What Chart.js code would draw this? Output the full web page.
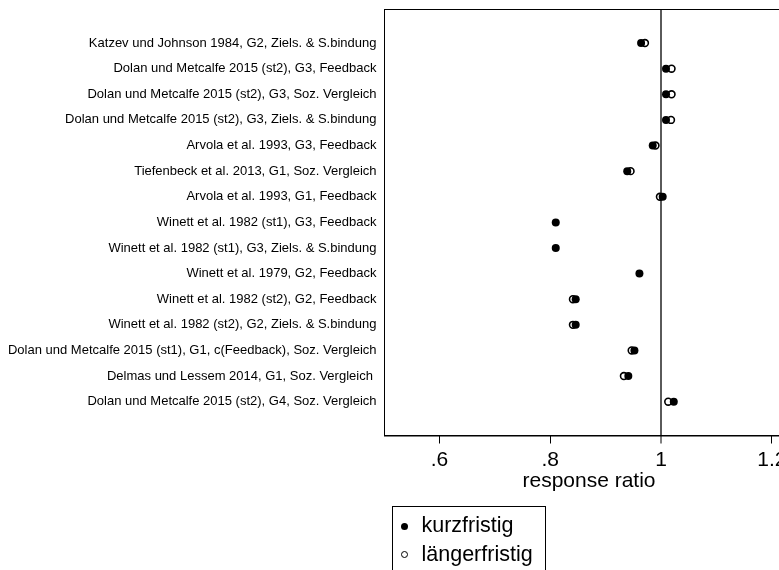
<!DOCTYPE html>
<html>
<head>
<meta charset="utf-8">
<script src="https://cdn.jsdelivr.net/npm/chart.js@4.4.1/dist/chart.umd.min.js"></script>
<style>
  html, body { margin: 0; padding: 0; overflow: hidden; background: #fff; }
  #wrap { position: relative; width: 779px; height: 570px; overflow: hidden; }
  #chart { position: absolute; left: 0; top: 0; }
  #legend {
    position: absolute; left: 392px; top: 506px; width: 154px; height: 90px;
    border: 1px solid #000; box-sizing: border-box; padding-top: 4px;
    font-family: "Liberation Sans", Arial, sans-serif; font-size: 21.5px; line-height: 28.5px; color: #000;
  }
  .item { white-space: nowrap; }
  .dot { display: inline-block; width: 7px; height: 7px; border-radius: 50%; box-sizing: border-box;
         vertical-align: middle; margin: 0 14px 0 7.5px; }
</style>
</head>
<body>
<div id="wrap">
  <canvas id="chart" width="800" height="570"></canvas>
  <div id="legend"></div>
</div>
<script>
// Studien (von oben nach unten)
const categories = [
  'Katzev und Johnson 1984, G2, Ziels. & S.bindung',
  'Dolan und Metcalfe 2015 (st2), G3, Feedback',
  'Dolan und Metcalfe 2015 (st2), G3, Soz. Vergleich',
  'Dolan und Metcalfe 2015 (st2), G3, Ziels. & S.bindung',
  'Arvola et al. 1993, G3, Feedback',
  'Tiefenbeck et al. 2013, G1, Soz. Vergleich',
  'Arvola et al. 1993, G1, Feedback',
  'Winett et al. 1982 (st1), G3, Feedback',
  'Winett et al. 1982 (st1), G3, Ziels. & S.bindung',
  'Winett et al. 1979, G2, Feedback',
  'Winett et al. 1982 (st2), G2, Feedback',
  'Winett et al. 1982 (st2), G2, Ziels. & S.bindung',
  'Dolan und Metcalfe 2015 (st1), G1, c(Feedback), Soz. Vergleich',
  'Delmas und Lessem 2014, G1, Soz. Vergleich ',
  'Dolan und Metcalfe 2015 (st2), G4, Soz. Vergleich'
];

const seriesNames = ['kurzfristig', 'längerfristig'];

// response ratios
const kurzfristig = [0.964, 1.009, 1.009, 1.009, 0.985, 0.939, 1.003, 0.810, 0.810, 0.961, 0.846, 0.846, 0.952, 0.941, 1.023];
const laengerfristig = [0.971, 1.019, 1.019, 1.018, 0.990, 0.945, 0.998, null, null, null, 0.841, 0.841, 0.947, 0.933, 1.013];

const xTicks = [0.6, 0.8, 1, 1.2];
const refLine = 1;

const FONT = '"Liberation Sans", Arial, sans-serif';
Chart.defaults.font.family = FONT;
Chart.defaults.color = '#000';

function toPoints(values) {
  const pts = [];
  values.forEach((v, i) => { if (v !== null) pts.push({ x: v, y: i + 1 }); });
  return pts;
}

// Rahmen um die Plotfläche
const frame = {
  id: 'frame',
  beforeDatasetsDraw(chart) {
    const { ctx, chartArea: a } = chart;
    ctx.save();
    ctx.strokeStyle = '#000';
    ctx.lineWidth = 1;
    ctx.strokeRect(a.left + 0.5, a.top + 0.5, a.right - a.left, a.bottom - a.top);
    ctx.restore();
  }
};

const chart = new Chart(document.getElementById('chart'), {
  type: 'scatter',
  data: {
    datasets: [
      { label: seriesNames[0], data: toPoints(kurzfristig), pointRadius: 4, pointHoverRadius: 4,
        backgroundColor: '#000', borderColor: '#000', borderWidth: 0 },
      { label: seriesNames[1], data: toPoints(laengerfristig), pointRadius: 3.4, pointHoverRadius: 3.4,
        backgroundColor: '#fff', borderColor: '#000', borderWidth: 1.6 }
    ]
  },
  options: {
    responsive: false,
    animation: false,
    layout: { padding: { left: 0, top: 9, right: 6, bottom: 76.4 } },
    plugins: { legend: { display: false }, tooltip: { enabled: false } },
    scales: {
      x: {
        type: 'linear', min: 0.5, max: 1.24,
        afterBuildTicks: s => { s.ticks = xTicks.map(v => ({ value: v })); },
        afterFit: s => { s.height = 58.1; },
        border: { display: true, color: '#000', width: 1 },
        grid: {
          drawOnChartArea: true, drawTicks: true, tickLength: 8,
          color: c => (c.tick && c.tick.value === refLine) ? '#5a5a5a' : 'rgba(0,0,0,0)',
          lineWidth: c => (c.tick && c.tick.value === refLine) ? 2 : 1,
          tickColor: '#000', tickWidth: 1
        },
        ticks: {
          padding: 4.3, color: '#000', font: { size: 21 }, maxRotation: 0,
          callback: v => String(v).replace(/^0\./, '.')
        },
        title: { display: true, text: 'response ratio', color: '#000', font: { size: 21 }, padding: { top: 0, bottom: 0 } }
      },
      y: {
        type: 'linear', reverse: true, min: -0.33, max: 16.32,
        afterBuildTicks: s => { s.ticks = categories.map((c, i) => ({ value: i + 1 })); },
        afterFit: s => { s.width = 384; s.paddingTop = 0; s.paddingBottom = 0; },
        border: { display: true, color: '#000', width: 1 },
        grid: { display: false, drawTicks: false },
        ticks: {
          padding: 7.5, color: '#000', font: { size: 13 }, autoSkip: false,
          callback: v => categories[v - 1]
        }
      }
    }
  },
  plugins: [frame]
});

// Legende
const legendEl = document.getElementById('legend');
chart.data.datasets.forEach(ds => {
  const row = document.createElement('div');
  row.className = 'item';
  const dot = document.createElement('span');
  dot.className = 'dot';
  dot.style.background = ds.backgroundColor;
  dot.style.border = ds.backgroundColor === '#fff' ? '1.6px solid #000' : 'none';
  row.appendChild(dot);
  row.appendChild(document.createTextNode(ds.label));
  legendEl.appendChild(row);
});
</script>
</body>
</html>
